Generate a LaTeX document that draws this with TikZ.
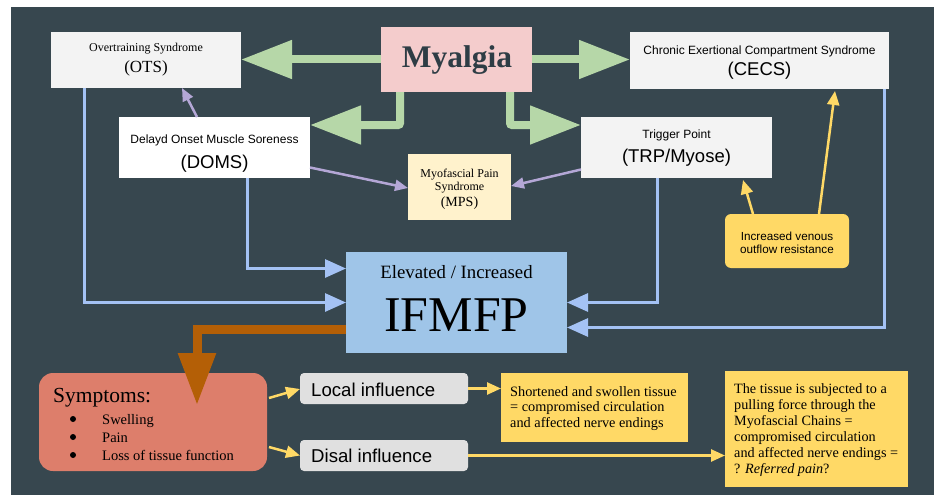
\documentclass[tikz,border=0pt]{standalone}
\usepackage{fontspec}
\setmainfont{Liberation Serif}
\setsansfont{Liberation Sans}
\usetikzlibrary{arrows.meta,calc}
\definecolor{bg}{HTML}{37474F}
\definecolor{grn}{HTML}{B6D7A8}
\definecolor{pnk}{HTML}{F4CCCC}
\definecolor{lgr}{HTML}{F3F3F3}
\definecolor{mps}{HTML}{FFF2CC}
\definecolor{ifb}{HTML}{9FC5E8}
\definecolor{ylw}{HTML}{FFD966}
\definecolor{sym}{HTML}{DD7E6B}
\definecolor{inf}{HTML}{E0E0E0}
\definecolor{blu}{HTML}{A4C2F4}
\definecolor{prp}{HTML}{B4A7D6}
\definecolor{org}{HTML}{B45F06}
\definecolor{myt}{HTML}{2E3D45}
\newcommand\myfs[1]{\fontsize{#1}{#1}\selectfont}
\begin{document}
\begin{tikzpicture}[x=1pt,y=-1pt,
  bx/.style={inner sep=0pt,outer sep=0pt,draw=none},
  tx/.style={inner sep=0pt,anchor=base},
  txl/.style={inner sep=0pt,anchor=base west},
  bullet/.style={fill=black},
  garrow/.style={draw=grn,line width=8pt,rounded corners=2pt,-{Triangle[length=51pt,width=37pt]}},
  barrow/.style={draw=blu,line width=3pt,-{Triangle[length=21pt,width=18pt]}},
  parrow/.style={draw=prp,line width=2.5pt,-{Triangle[length=13pt,width=11pt]}},
  yarrow/.style={draw=ylw,line width=2.5pt,-{Triangle[length=14pt,width=12pt]}},
  oarrow/.style={draw=org,line width=9pt,-{Triangle[length=52pt,width=36pt]}}]
\useasboundingbox (0,0) rectangle (934,495);
\fill[white] (0,0) rectangle (934,495);
\fill[bg] (11,7) rectangle (934,495);

% boxes
\node[bx,fill=pnk,minimum width=151pt,minimum height=65pt] (myalgia) at (456.5,59.5) {};
\node[bx,fill=lgr,minimum width=190pt,minimum height=56pt] (ots) at (146,60) {};
\node[bx,fill=lgr,minimum width=259pt,minimum height=57pt] (cecs) at (759.5,60.5) {};
\node[bx,fill=white,minimum width=191pt,minimum height=61pt] (doms) at (214.5,147.5) {};
\node[bx,fill=lgr,minimum width=191pt,minimum height=61pt] (trp) at (676.5,147.5) {};
\node[bx,fill=mps,minimum width=103pt,minimum height=66pt] (mpsb) at (459.5,187) {};
\node[bx,fill=ifb,minimum width=221pt,minimum height=101pt] (ifmfp) at (456.5,302.5) {};
\node[bx,fill=ylw,rounded corners=6pt,minimum width=124pt,minimum height=54pt] (venous) at (787,241) {};
\node[bx,fill=sym,rounded corners=14pt,minimum width=228pt,minimum height=98pt] (symptoms) at (153,422) {};
\node[bx,fill=inf,rounded corners=4pt,minimum width=168pt,minimum height=31pt] (local) at (384,388.5) {};
\node[bx,fill=inf,rounded corners=4pt,minimum width=168pt,minimum height=31pt] (disal) at (384,455.5) {};
\node[bx,fill=ylw,minimum width=187pt,minimum height=69pt] (short) at (594.5,407.5) {};
\node[bx,fill=ylw,minimum width=183pt,minimum height=116pt] (tissue) at (816.5,429) {};

% texts
\node[tx,text=myt] (myT) at (457,67) {\myfs{31.5}\bfseries Myalgia};
\node[tx] (otsA) at (146,52) {\myfs{12}Overtraining Syndrome};
\node[tx] (otsB) at (146,73) {\myfs{17}(OTS)};
\node[tx] (cecsA) at (759.5,55) {\sffamily\myfs{12}Chronic Exertional Compartment Syndrome};
\node[tx] (cecsB) at (759.5,76) {\sffamily\myfs{18.5}(CECS)};
\node[tx] (domsA) at (214.5,143) {\sffamily\myfs{12}Delayd Onset Muscle Soreness};
\node[tx] (domsB) at (214.5,168) {\sffamily\myfs{18.5}(DOMS)};
\node[tx] (trpA) at (676.5,138) {\sffamily\myfs{12}Trigger Point};
\node[tx] (trpB) at (676.5,162) {\sffamily\myfs{18.5}(TRP/Myose)};
\node[tx] (mpsA) at (459.5,177) {\myfs{12}Myofascial Pain};
\node[tx] (mpsB) at (459.5,190) {\myfs{12}Syndrome};
\node[tx] (mpsC) at (459.5,206) {\myfs{14}(MPS)};
\node[tx] (ifA) at (456.5,278) {\myfs{18.8}Elevated / Increased};
\node[tx] (ifB) at (456.5,331) {\myfs{50}IFMFP};
\node[tx] (venA) at (787,240) {\sffamily\myfs{11.7}Increased venous};
\node[tx] (venB) at (787,253) {\sffamily\myfs{11.7}outflow resistance};
\node[txl] (symA) at (53,402) {\myfs{21.5}Symptoms:};
\fill[bullet] (73,419) circle (3pt);
\fill[bullet] (73,437) circle (3pt);
\fill[bullet] (73,455) circle (3pt);
\node[txl] (symB) at (102,424) {\myfs{14.5}Swelling};
\node[txl] (symC) at (102,442) {\myfs{14.5}Pain};
\node[txl] (symD) at (102,460) {\myfs{14.5}Loss of tissue function};
\node[txl] (locT) at (311,396) {\sffamily\myfs{18.6}Local influence};
\node[txl] (disT) at (311,462) {\sffamily\myfs{18.6}Disal influence};
\node[txl] (shA) at (510,396) {\myfs{14.3}Shortened and swollen tissue};
\node[txl] (shB) at (510,411.5) {\myfs{14.3}= compromised circulation};
\node[txl] (shC) at (510,427) {\myfs{14.3}and affected nerve endings};
\node[txl] (tiA) at (734,393) {\myfs{14.2}The tissue is subjected to a};
\node[txl] (tiB) at (734,409) {\myfs{14.2}pulling force through the};
\node[txl] (tiC) at (734,425) {\myfs{14.2}Myofascial Chains =};
\node[txl] (tiD) at (734,441) {\myfs{14.2}compromised circulation};
\node[txl] (tiE) at (734,457) {\myfs{14.2}and affected nerve endings =};
\node[txl] (tiF) at (734,473) {\myfs{14.2}? \textit{Referred pain}?};

% green arrows
\draw[garrow] (myalgia.west) -- (myalgia.west -| ots.east);
\draw[garrow] (myalgia.east) -- (myalgia.east -| cecs.west);
\draw[garrow] ($(myalgia.south)+(-56.5,0)$) |- ($(doms.north east)+(0,8)$);
\draw[garrow] ($(myalgia.south)+(53.5,0)$) |- ($(trp.north west)+(0,8)$);

% purple arrows
\draw[parrow] ($(doms.north west)+(78,0)$) -- ($(ots.south west)+(131,0)$);
\draw[parrow] ($(doms.east)+(0,20)$) -- ($(mpsb.west)+(0,1)$);
\draw[parrow] ($(trp.west)+(0,22)$) -- ($(mpsb.east)+(0,-1)$);

% blue arrows
\draw[barrow] ($(ots.south west)+(33,0)$) |- (ifmfp.west);
\draw[barrow] ($(doms.south west)+(128,0)$) |- ($(ifmfp.west)+(0,-34)$);
\draw[barrow] ($(trp.south west)+(76,0)$) |- (ifmfp.east);
\draw[barrow] ($(cecs.south west)+(254,0)$) |- ($(ifmfp.east)+(0,25)$);

% orange arrow
\draw[oarrow] ($(ifmfp.west)+(0,27)$) -| ($(symptoms.north west)+(158,32)$);

% yellow arrows
\draw[yarrow] ($(symptoms.north east)+(2,25)$) -- ($(local.west)+(0,0.5)$);
\draw[yarrow] ($(symptoms.north east)+(2,74)$) -- (disal.west);
\draw[yarrow] (local.east) -- (local.east -| short.west);
\draw[yarrow] (disal.east) -- (disal.east -| tissue.west);
\draw[yarrow] ($(venous.north west)+(28,0)$) -- ($(trp.south east)+(-29,2)$);
\draw[yarrow] ($(venous.north west)+(94,0)$) -- ($(cecs.south west)+(205,2)$);
\end{tikzpicture}
\end{document}
